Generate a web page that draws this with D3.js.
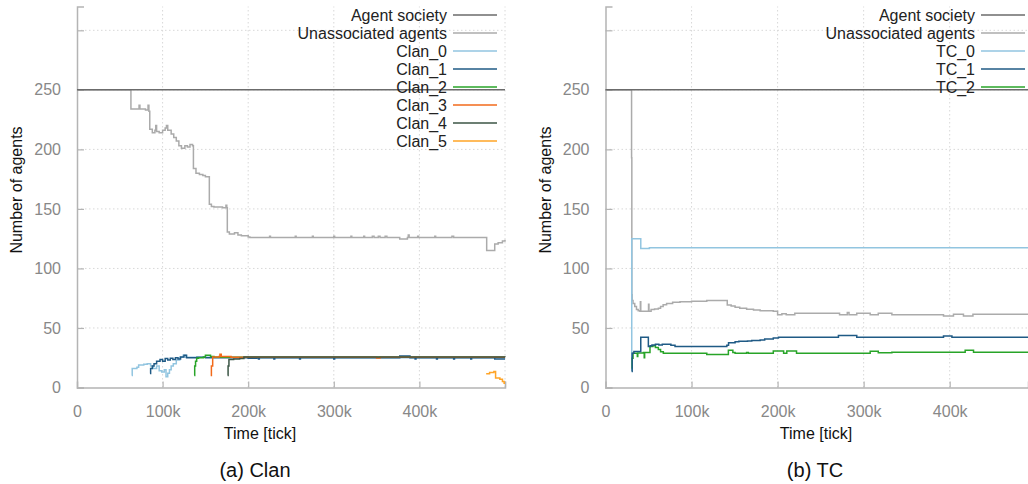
<!DOCTYPE html>
<html><head><meta charset="utf-8">
<script src="https://cdn.jsdelivr.net/npm/d3@7"></script>
<style>body{margin:0;background:#fff;} svg{display:block;font-family:"Liberation Sans",Arial,sans-serif;}</style>
</head><body>
<svg id="c" width="1028" height="484"></svg>
<script>
// ---- data (x in thousand ticks, y = number of agents) ----
const yTicks = [0, 50, 100, 150, 200, 250, 300];
const yTickLabels = ["0", "50", "100", "150", "200", "250", ""];
const xTicks = [0, 100, 200, 300, 400, 500];
const xTickLabels = ["0", "100k", "200k", "300k", "400k", ""];

const clanSeriesNames = ["Agent society", "Unassociated agents", "Clan_0", "Clan_1", "Clan_2", "Clan_3", "Clan_4", "Clan_5"];
const tcSeriesNames = ["Agent society", "Unassociated agents", "TC_0", "TC_1", "TC_2"];

const clanAgentSociety = [[0,250],[500,250]];
const clanUnassociated = [[0,250],[63,234],[72.5,237],[73.5,234],[80,233],[83,237],[84,232],[85,217],[88,214],[91,216],[92,220],[93,215],[96,214],[100,216],[103,218],[104.5,220],[106,216],[110,213],[113,210],[116,207],[119,203],[122,201],[126,203],[129,202],[132,204],[135,203],[136,184],[139,180],[143,179],[147,178],[150,177],[154.6,154],[157,152],[160,151.5],[170,151],[174,153],[175,151],[175.6,130.5],[178,129],[184,130],[188,128],[192,127.5],[200,126.5],[202,126],[225,127],[226,126],[255,127],[256,126],[275,127],[276,126],[300,127],[301,126],[320,127],[321,126],[335,127],[336,126],[345,127],[347,126],[352,127],[354,126],[360,127],[362,126],[377,124.8],[386,126],[387,128],[388,126],[398,127],[399,126],[418,127],[419,126],[438,127],[440,126],[478.6,115],[488,120.5],[492,121.5],[497,123],[500,124]];
const clan0 = [[64,10],[64.5,16],[70,17],[72,19],[78,19.5],[82,20],[86,18],[89,16],[93,18],[96,14],[99,13],[102,15],[104,9],[106,12],[108,15],[110,18],[112.5,20],[116,23],[120,25.5],[124,27],[127,25.5],[200,25],[500,25]];
const clan1 = [[85.3,11.7],[86,16],[88,18],[90,20],[93,22],[97,23.5],[100,22],[103,24.3],[106,23],[109,24.5],[112,23.5],[115,25],[118,24],[121,25.7],[125,27],[128,25],[140,25.5],[150,25],[200,24.5],[210,25],[212,24],[213,25],[230,24],[231,25],[260,24],[261,25],[300,24],[301,25],[377,26.5],[389,25],[395,24],[396,25],[420,24],[421,25],[440,24],[441,25],[460,24],[461,25],[488,24],[500,24]];
const clan2 = [[137,10],[137.5,18],[138.5,22],[139.8,24.5],[142,25],[147.6,25.7],[150,27],[156,26],[160,25.5],[500,25.5]];
const clan3 = [[156.2,10],[157,18],[158.5,25.7],[166,26],[167,28],[168.5,26],[175,26],[180,25.5],[350,24.8],[354,25.5],[500,25.5]];
const clan4 = [[176,10],[176.5,18],[177.5,23.5],[183,24],[190,24.3],[195,25.7],[500,25.5]];
const clan5 = [[478,11.5],[482,12.5],[487,13.5],[489,8],[494,7],[497,5],[499,3.5],[500,3.5]];

const tcAgentSociety = [[0,250],[491,250]];
const tcUnassociated = [[0,250],[30,250],[30.3,193],[30.6,78],[31,73],[32,70.5],[34,68],[36,65.5],[38,64.5],[40,64],[40.5,72],[41,64],[49.8,64],[50,70],[50.5,64],[53,65.5],[57,66],[61.4,66.5],[64,68],[67,69.5],[71,70.6],[78,71.5],[86.6,72],[100,72.5],[117.7,73],[141,73],[141.5,69.3],[146,68.5],[150.6,67.3],[156,66.5],[164,65.7],[172,65],[179.7,64.5],[195,64],[200,61],[205,62],[210,61],[220,62.3],[272,61],[281,63],[283,61],[292,62.3],[307.6,61],[317,62.3],[332.8,61],[392.8,60],[404.4,61.5],[416,60],[427,61.5],[491,61.5]];
const tc0 = [[30.2,14],[30.5,125],[40,125],[41,116.8],[51,117.4],[491,117.4]];
const tc1 = [[30.4,13.4],[31,28.8],[33,30.2],[36,30.2],[41,42.2],[49.8,34.4],[52,35],[54,35.8],[58,36.3],[62,35.8],[66,36.3],[71,36.3],[76,35.5],[80.8,34.4],[141,35.5],[143,37.5],[150.6,38.5],[155,38.8],[165,39],[170,39.5],[179.7,39.9],[185,40.7],[195,41.5],[201,42.2],[270.7,43.6],[292,42.2],[392.8,43.3],[402.6,42.2],[491,42.2]];
const tc2 = [[30.2,16.3],[31,24.6],[32,28.8],[36,28.8],[37,26],[37.5,29],[44,29.4],[45,25],[45.5,29.4],[51.7,34.4],[55,35],[58,33.5],[61.4,32],[64,30],[67.2,28.8],[117.7,27.8],[142.8,31.2],[148,29.5],[150.6,28.8],[164,29.4],[166,28.8],[195,30.6],[207,28.8],[210.7,30.6],[222,28.8],[307.6,30.4],[317,29.2],[332.8,29.7],[418,31.2],[427.7,29.7],[491,29.7]];

const clanColors = ["#6b6b6b", "#ababab", "#92c5e0", "#1f5a85", "#28a428", "#f26a1b", "#3b5545", "#ffa426"];
const tcColors = ["#6b6b6b", "#ababab", "#92c5e0", "#1f5a85", "#28a428"];

// ---- drawing ----
const svg = d3.select("#c");
const AXIS = "#b4b4b4", GRID = "#d8d8d8", TICKTXT = "#888";

function panel(opt) {
  const x = d3.scaleLinear().domain([0, opt.xMax]).range([opt.left, opt.right]);
  const y = d3.scaleLinear().domain([0, 320]).range([387.5, 6.5]);
  const g = svg.append("g");

  // grid
  g.append("g").selectAll("line").data(yTicks.filter(v => v > 0)).join("line")
    .attr("x1", opt.left).attr("x2", opt.right).attr("y1", d => y(d)).attr("y2", d => y(d))
    .attr("stroke", GRID).attr("stroke-dasharray", "1.5,2.5");
  g.append("g").selectAll("line").data(xTicks.filter(v => v > 0 && v <= opt.xMax)).join("line")
    .attr("x1", d => x(d)).attr("x2", d => x(d)).attr("y1", y(0)).attr("y2", y(320))
    .attr("stroke", GRID).attr("stroke-dasharray", "1.5,2.5");

  // axes
  const yAxis = d3.axisLeft(y).tickValues(yTicks).tickSize(-7).tickPadding(16)
    .tickFormat((d, i) => yTickLabels[i]);
  const ya = g.append("g").attr("transform", `translate(${opt.left},0)`).call(yAxis);
  const xAxis = d3.axisBottom(x).tickValues(xTicks.filter(v => v <= opt.xMax)).tickSize(-6).tickPadding(18)
    .tickFormat((d, i) => xTickLabels[i]);
  const xa = g.append("g").attr("transform", `translate(0,${y(0)})`).call(xAxis);
  [ya, xa].forEach(a => {
    a.select(".domain").attr("stroke", AXIS).attr("stroke-width", 1.5);
    a.selectAll(".tick line").attr("stroke", AXIS).attr("stroke-width", 1.2);
    a.selectAll(".tick text").attr("fill", TICKTXT).attr("font-size", 16)
      .attr("font-family", '"Liberation Sans",Arial,sans-serif');
  });
  xa.selectAll(".tick").filter(d => d === 0).select("line").remove();

  // lines
  const line = d3.line().x(d => x(d[0])).y(d => y(d[1])).curve(d3.curveStepAfter);
  const order = opt.drawOrder;
  order.forEach(i => {
    g.append("path").datum(opt.series[i]).attr("d", line)
      .attr("fill", "none").attr("stroke", opt.colors[i]).attr("stroke-width", 1.5);
  });

  // legend
  const lg = g.append("g");
  opt.names.forEach((n, i) => {
    const cy = 15 + i * 18;
    lg.append("text").attr("x", opt.legX).attr("y", cy + 5.5).attr("text-anchor", "end")
      .attr("font-size", 16).attr("fill", "#222").text(n);
    lg.append("line").attr("x1", opt.legX + 6).attr("x2", opt.legX + 50).attr("y1", cy).attr("y2", cy)
      .attr("stroke", opt.colors[i]).attr("stroke-width", 1.5);
  });

  // labels
  g.append("text").attr("x", opt.xlabX).attr("y", 439).attr("text-anchor", "middle")
    .attr("font-size", 16).attr("fill", "#111").text("Time [tick]");
  g.append("text").attr("transform", `translate(${opt.ylabX},190) rotate(-90)`).attr("text-anchor", "middle")
    .attr("font-size", 16).attr("fill", "#111").text("Number of agents");
  g.append("text").attr("x", opt.capX).attr("y", 477).attr("text-anchor", "middle")
    .attr("font-size", 20).attr("fill", "#111").text(opt.caption);
}

panel({
  left: 77, right: 505, xMax: 500,
  series: [clanAgentSociety, clanUnassociated, clan0, clan1, clan2, clan3, clan4, clan5],
  colors: clanColors, names: clanSeriesNames, drawOrder: [1, 0, 2, 3, 4, 5, 6, 7],
  legX: 447, xlabX: 260, ylabX: 22, capX: 255, caption: "(a) Clan"
});
panel({
  left: 605.5, right: 1028, xMax: 491,
  series: [tcAgentSociety, tcUnassociated, tc0, tc1, tc2],
  colors: tcColors, names: tcSeriesNames, drawOrder: [1, 0, 2, 4, 3],
  legX: 975, xlabX: 816, ylabX: 551, capX: 815, caption: "(b) TC"
});
</script>
</body></html>
